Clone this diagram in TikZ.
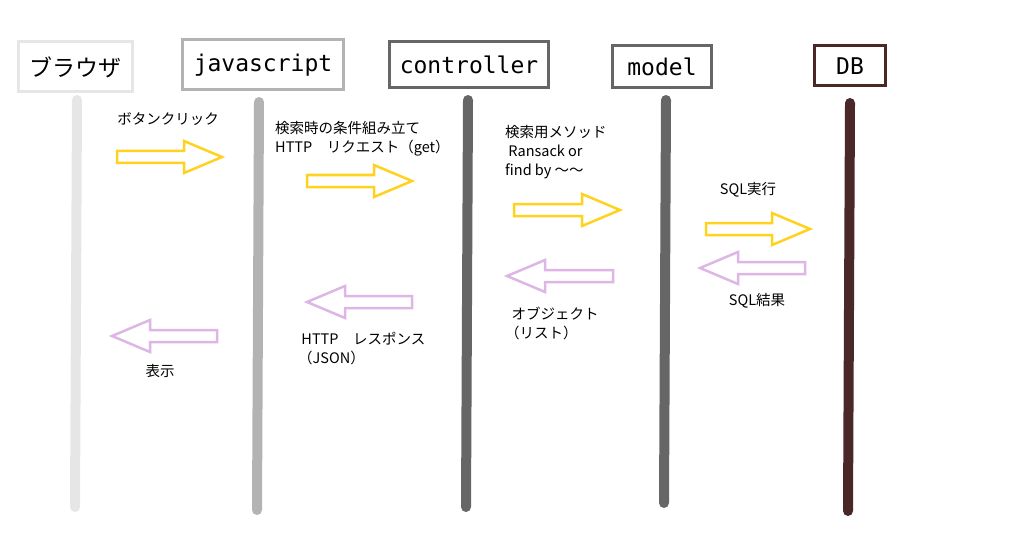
\documentclass[tikz,border=0pt]{standalone}
\usepackage{fontspec}
\setmainfont{Noto Sans CJK JP}
\newfontfamily\hdmono{DejaVu Sans Mono}
\definecolor{yel}{HTML}{FFD21F}
\definecolor{pnk}{HTML}{DDB6E6}
\definecolor{c1}{HTML}{E6E6E6}
\definecolor{c2}{HTML}{B3B3B3}
\definecolor{c3}{HTML}{666666}
\definecolor{c4}{HTML}{4A2828}
\newcommand\rarr[4]{% x1 x2 y color
 \draw[#4,line width=2.5pt,line join=miter] (#1,#3-6)--(#2-38,#3-6)--(#2-38,#3-16)--(#2,#3)--(#2-38,#3+16)--(#2-38,#3+6)--(#1,#3+6)--cycle;}
\newcommand\larr[4]{% x1 x2 y color, head at x1
 \draw[#4,line width=2.5pt,line join=miter] (#2,#3-6)--(#1+38,#3-6)--(#1+38,#3-16)--(#1,#3)--(#1+38,#3+16)--(#1+38,#3+6)--(#2,#3+6)--cycle;}
\begin{document}
\begin{tikzpicture}[x=1pt,y=-1pt,
 hd/.style={draw=#1,line width=3pt,font=\hdmono\fontsize{23}{26}\selectfont,inner sep=0pt,anchor=center},
 life/.style={line width=10pt,line cap=round,draw=#1},
 lb/.style={font=\fontsize{14.5}{19}\selectfont,inner sep=0pt,align=left}]
\useasboundingbox (0,0) rectangle (1024,540);
\node[hd=c1,minimum width=114pt,minimum height=50pt] (b) at (75,67) {\rmfamily\fontsize{23}{26}\selectfont ブラウザ};
\node[hd=c2,minimum width=161pt,minimum height=50pt] (j) at (263,65) {javascript};
\node[hd=c3,minimum width=159pt,minimum height=46pt] (c) at (469,65) {controller};
\node[hd=c3,minimum width=99pt,minimum height=42pt] (m) at (662,67) {model};
\node[hd=c4,minimum width=71pt,minimum height=40pt] (d) at (850,66) {DB};
\coordinate (b1) at (77,100); \coordinate (b2) at (75,507);
\coordinate (j1) at (259,102); \coordinate (j2) at (257,510);
\coordinate (c1) at (468,100); \coordinate (c2) at (466,507);
\coordinate (m1) at (666,100); \coordinate (m2) at (664,503);
\coordinate (d1) at (850,103); \coordinate (d2) at (848,511);
\draw[life=c1] (b1)--(b2);
\draw[life=c2] (j1)--(j2);
\draw[life=c3] (c1)--(c2);
\draw[life=c3] (m1)--(m2);
\draw[life=c4] (d1)--(d2);
\rarr{117}{222}{157}{yel}
\rarr{307}{412}{181}{yel}
\rarr{514}{620}{210}{yel}
\rarr{706}{810}{229}{yel}
\larr{507}{613}{276}{pnk}
\larr{700}{805}{268}{pnk}
\larr{307}{412}{302}{pnk}
\larr{112}{217}{336}{pnk}
\node[lb] (t1) at (168,119) {ボタンクリック};
\node[lb,anchor=west] (t2) at (275,139) {検索時の条件組み立て\\HTTP　リクエスト（get）};
\node[lb,anchor=west] (t3) at (505,152) {検索用メソッド\\ \ Ransack or\\find by ～～};
\node[lb] (t4) at (748,190) {SQL実行};
\node[lb] (t5) at (757,301) {SQL結果};
\node[lb,anchor=west] (t6) at (505,323) {\ \ オブジェクト\\（リスト）};
\node[lb,anchor=west] (t7) at (298,349) {\ HTTP　レスポンス\\（JSON）};
\node[lb] (t8) at (160,371) {表示};
\end{tikzpicture}
\end{document}
